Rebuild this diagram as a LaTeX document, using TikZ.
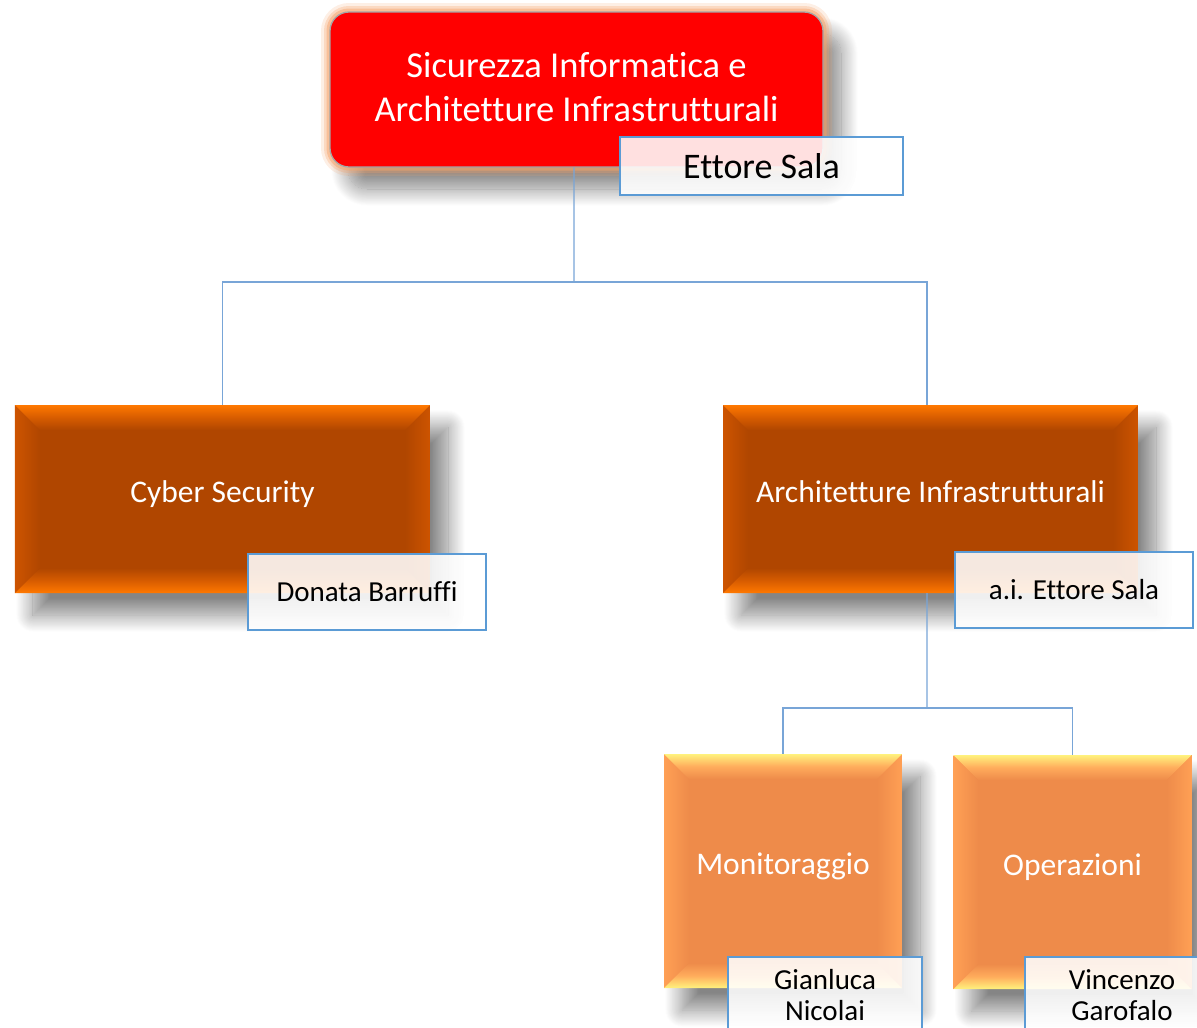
\documentclass[tikz,border=0pt]{standalone}
\usepackage{fontspec}
\setmainfont{Carlito}[Ligatures=NoCommon]
\usetikzlibrary{shadows.blur}
\definecolor{redbox}{RGB}{255,0,0}
\definecolor{glow}{RGB}{245,165,110}
\definecolor{darkbody}{RGB}{176,70,0}
\definecolor{darkedge}{RGB}{255,120,0}
\definecolor{darkmid}{RGB}{215,92,0}
\definecolor{darkside}{RGB}{205,84,0}
\definecolor{lightbody}{RGB}{238,139,74}
\definecolor{lightedge}{RGB}{255,242,125}
\definecolor{lightmid}{RGB}{255,172,92}
\definecolor{lightside}{RGB}{255,160,85}
\definecolor{namebd}{RGB}{91,155,213}
\definecolor{connc}{RGB}{120,165,215}
\tikzset{
  myshadow/.style={blur shadow={shadow xshift=18bp, shadow yshift=-22bp, shadow blur radius=17bp, shadow blur steps=24, shadow opacity=48}},
  bevelbox/.style n args={5}{rectangle, inner sep=0pt, fill=#1, text=white,
    font=\fontsize{31.5bp}{38bp}\selectfont, myshadow, text height=0.85em, text depth=0.15em,
    path picture={
      \coordinate (nw) at (path picture bounding box.north west);
      \coordinate (ne) at (path picture bounding box.north east);
      \coordinate (sw) at (path picture bounding box.south west);
      \coordinate (se) at (path picture bounding box.south east);
      \coordinate (inw) at ([shift={(#5bp,-#5bp)}]nw);
      \coordinate (ine) at ([shift={(-#5bp,-#5bp)}]ne);
      \coordinate (isw) at ([shift={(#5bp,#5bp)}]sw);
      \coordinate (ise) at ([shift={(-#5bp,#5bp)}]se);
      \shade[left color=#4, right color=#1] (nw) -- (inw) -- (isw) -- (sw) -- cycle;
      \shade[left color=#1, right color=#4] (ne) -- (ine) -- (ise) -- (se) -- cycle;
      \shade[top color=#2, bottom color=#1, middle color=#3] (nw) -- (ne) -- (ine) -- (inw) -- cycle;
      \shade[top color=#1, bottom color=#2, middle color=#3] (sw) -- (se) -- (ise) -- (isw) -- cycle;
    }},
  darkbox/.style={bevelbox={darkbody}{darkedge}{darkmid}{darkside}{25}, minimum width=415bp, minimum height=188bp},
  lightbox/.style={bevelbox={lightbody}{lightedge}{lightmid}{lightside}{25}, minimum width=238bp, minimum height=234bp},
  topbox/.style={rectangle, rounded corners=19bp, minimum width=493bp, minimum height=155bp,
    myshadow,
    preaction={draw=glow, line width=18bp, draw opacity=0.18},
    preaction={draw=glow, line width=12bp, draw opacity=0.3},
    preaction={draw=glow, line width=7bp, draw opacity=0.5},
    fill=redbox, draw=gray!70, line width=1.3bp, text=white, align=center, inner sep=0pt,
    font=\fontsize{36.5bp}{44bp}\selectfont},
  namebox/.style={rectangle, draw=namebd, line width=2.2bp, fill=white, fill opacity=0.88,
    text opacity=1, text=black, inner sep=0pt, align=center,
    font=\fontsize{29bp}{31bp}\selectfont},
  conn/.style={draw=connc, line width=1.4bp},
}
\begin{document}
\begin{tikzpicture}[x=1bp, y=-1bp]
\useasboundingbox (0,0) rectangle (1197,1028);
\clip (0,0) rectangle (1197,1028);
% top level
\node[topbox] (top) at (576.5,89.5) {Sicurezza Informatica e\\Architetture Infrastrutturali\rule[-6bp]{0pt}{0pt}};
\node[namebox, minimum width=283bp, minimum height=58bp, font=\fontsize{36bp}{40bp}\selectfont] (ettore) at (761.5,166) {Ettore Sala};
% second level
\node[darkbox] (cyber) at (222.5,499) {Cyber Security};
\node[namebox, minimum width=238bp, minimum height=76bp] (donata) at (367,592) {Donata Barruffi};
\node[darkbox] (arch) at (930.5,499) {Architetture Infrastrutturali};
\node[namebox, minimum width=238bp, minimum height=76bp] (ai) at (1074,590) {a.i. Ettore Sala};
% third level
\node[lightbox] (monit) at (783,871) {Monitoraggio};
\node[namebox, minimum width=194bp, minimum height=76bp] (gianluca) at (825,995) {Gianluca\\Nicolai};
\node[lightbox] (oper) at (1072.5,872) {Operazioni};
\node[namebox, minimum width=194bp, minimum height=76bp] (vincenzo) at (1122,995) {Vincenzo\\Garofalo};
% connectors
\coordinate (j1) at (574,282);
\coordinate (j2) at (927,708);
\draw[conn] ([xshift=-2.5bp]top.south) -- (j1);
\draw[conn] (cyber.north) |- (j1) -| ([xshift=-3.5bp]arch.north);
\draw[conn] ([xshift=-3.5bp]arch.south) -- (j2);
\draw[conn] (monit.north) |- (j2) -| (oper.north);
\end{tikzpicture}
\end{document}
